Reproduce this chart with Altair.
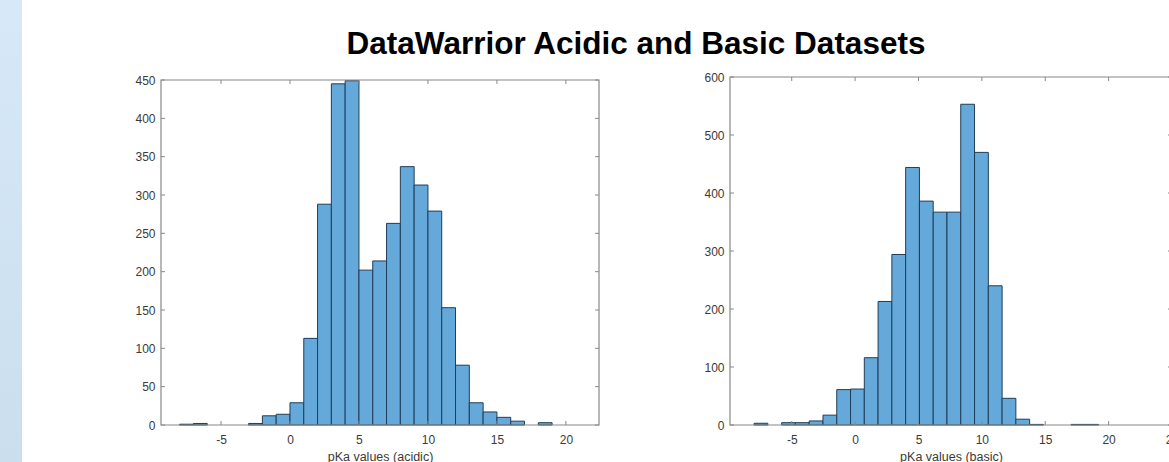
import altair as alt
import pandas as pd

# ---------------- data ----------------
TITLE = "DataWarrior Acidic and Basic Datasets"

acidic_bin_left = list(range(-8, 19))
acidic_bin_width = 1.0
acidic_counts = [1, 2, 0, 0, 0, 2, 12, 14, 29, 113, 288, 445, 449, 202, 214,
                 263, 337, 313, 279, 153, 78, 29, 17, 10, 5, 0, 3]

basic_bin_start = -7.97
basic_bin_width = 1.087
basic_counts = [3, 0, 4, 4, 7, 17, 61, 62, 116, 213, 294, 444, 386, 367, 367,
                553, 470, 240, 46, 10, 1, 0, 0, 1, 1]

acidic_x_ticks = [-5, 0, 5, 10, 15, 20]
acidic_y_ticks = [0, 50, 100, 150, 200, 250, 300, 350, 400, 450]
basic_x_ticks = [-5, 0, 5, 10, 15, 20, 25]
basic_y_ticks = [0, 100, 200, 300, 400, 500, 600]

acidic_x_domain = [-9.35, 22.4]
acidic_y_domain = [0, 450]
basic_x_domain = [-9.87, 25.0]
basic_y_domain = [0, 600]

acidic_title = "pKa values (acidic)"
basic_title = "pKa values (basic)"

# ---------------- layout / style ----------------
W, H = 1169, 462
FONT = "Liberation Sans"
BAR = "#64a9da"
EDGE = "#1f3d58"
BOX = "#888888"
LABEL = "#3a3a3a"

acid_df = pd.DataFrame({
    "x0": acidic_bin_left,
    "x1": [v + acidic_bin_width for v in acidic_bin_left],
    "count": acidic_counts,
})
basic_left = [basic_bin_start + i * basic_bin_width for i in range(len(basic_counts))]
basic_df = pd.DataFrame({
    "x0": basic_left,
    "x1": [v + basic_bin_width for v in basic_left],
    "count": basic_counts,
})
one = pd.DataFrame({"d": [0]})


def panel(df, xdom, ydom, xr, yr, xt, yt, xtitle):
    xs = alt.Scale(domain=xdom, range=xr, nice=False, zero=False)
    ys = alt.Scale(domain=ydom, range=yr, nice=False, zero=False)
    xaxis = alt.Axis(values=xt, orient="bottom", offset=-(H - yr[0]),
                     domain=False, ticks=False, tickSize=0, grid=False,
                     labelFont=FONT, labelFontSize=12, labelColor=LABEL,
                     labelPadding=9, labelFlush=False,
                     labelExpr="toString(datum.value)",
                     title=xtitle, titleFont=FONT, titleFontSize=12.5,
                     titleFontWeight="normal", titleColor=LABEL, titlePadding=5)
    yaxis = alt.Axis(values=yt, orient="left", offset=-xr[0],
                     domain=False, ticks=False, tickSize=0, grid=False,
                     labelFont=FONT, labelFontSize=12, labelColor=LABEL,
                     labelPadding=6, labelFlush=False,
                     labelExpr="toString(datum.value)", title=None)

    bars = alt.Chart(df).transform_filter("datum.count > 0").mark_rect(
        fill=BAR, stroke=EDGE, strokeWidth=1
    ).encode(
        x=alt.X("x0:Q", scale=xs, axis=xaxis),
        x2="x1:Q",
        y=alt.Y("count:Q", scale=ys, axis=yaxis),
        y2=alt.Y2Datum(ydom[0]),
    )

    xt_in = pd.DataFrame({"t": [t for t in xt if xdom[0] <= t <= xdom[1]]})
    yt_df = pd.DataFrame({"t": yt})

    bottom_ticks = alt.Chart(xt_in).mark_rule(color=BOX, strokeWidth=1, y2Offset=-4).encode(
        x=alt.X("t:Q", scale=xs, axis=None),
        y=alt.YDatum(ydom[0], scale=ys, axis=None),
        y2=alt.Y2Datum(ydom[0]),
    )
    top_ticks = alt.Chart(xt_in).mark_rule(color=BOX, strokeWidth=1, y2Offset=4).encode(
        x=alt.X("t:Q", scale=xs, axis=None),
        y=alt.YDatum(ydom[1], scale=ys, axis=None),
        y2=alt.Y2Datum(ydom[1]),
    )
    left_ticks = alt.Chart(yt_df).mark_rule(color=BOX, strokeWidth=1, x2Offset=4).encode(
        y=alt.Y("t:Q", scale=ys, axis=None),
        x=alt.XDatum(xdom[0], scale=xs, axis=None),
        x2=alt.X2Datum(xdom[0]),
    )
    right_ticks = alt.Chart(yt_df).mark_rule(color=BOX, strokeWidth=1, x2Offset=-4).encode(
        y=alt.Y("t:Q", scale=ys, axis=None),
        x=alt.XDatum(xdom[1], scale=xs, axis=None),
        x2=alt.X2Datum(xdom[1]),
    )
    box = alt.Chart(one).mark_rect(fillOpacity=0, stroke=BOX, strokeWidth=1.2).encode(
        x=alt.XDatum(xdom[0], scale=xs, axis=None),
        x2=alt.X2Datum(xdom[1]),
        y=alt.YDatum(ydom[0], scale=ys, axis=None),
        y2=alt.Y2Datum(ydom[1]),
    )
    return [bars, bottom_ticks, top_ticks, left_ticks, right_ticks, box]


band = alt.Chart(one).mark_rect(
    fill=alt.Gradient(
        gradient="linear",
        stops=[alt.GradientStop(color="#d7e9f8", offset=0),
               alt.GradientStop(color="#cadeee", offset=1)],
        x1=0, x2=0, y1=0, y2=1,
    )
).encode(x=alt.value(0), x2=alt.value(22), y=alt.value(0), y2=alt.value(H))

title = alt.Chart(one).mark_text(
    font=FONT, fontSize=31.5, fontWeight="bold", color="black",
    align="center", baseline="alphabetic"
).encode(x=alt.value(636), y=alt.value(54), text=alt.value(TITLE))

layers = [band, title]
layers += panel(acid_df, acidic_x_domain, acidic_y_domain, [161, 599], [425, 80],
                acidic_x_ticks, acidic_y_ticks, acidic_title)
layers += panel(basic_df, basic_x_domain, basic_y_domain, [730, 1172], [425, 77],
                basic_x_ticks, basic_y_ticks, basic_title)

chart = alt.layer(*layers).resolve_scale(
    x="independent", y="independent"
).resolve_axis(
    x="independent", y="independent"
).properties(
    width=W, height=H, autosize=alt.AutoSizeParams(type="none"), padding=0,
    background="white"
).configure_view(strokeWidth=0)

chart.save("out.html", embed_options={"renderer": "svg", "actions": False})
